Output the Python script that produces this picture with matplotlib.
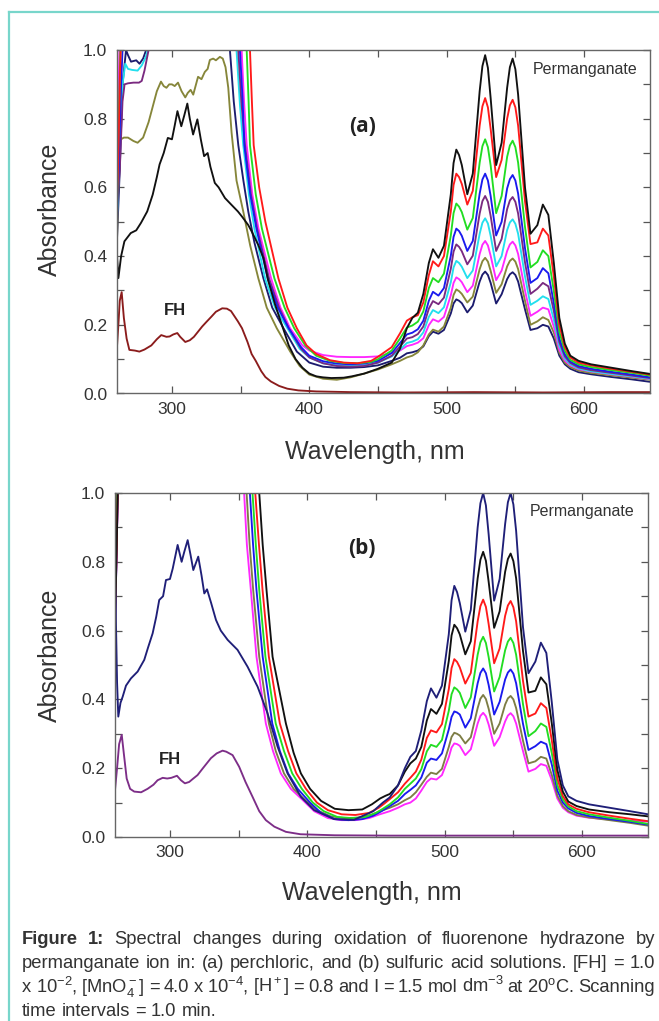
import numpy as np
import matplotlib.pyplot as plt
from matplotlib.lines import Line2D

plt.rcParams['font.family'] = ['Liberation Sans', 'DejaVu Sans']
plt.rcParams['mathtext.fontset'] = 'custom'
plt.rcParams['mathtext.rm'] = 'Liberation Sans'
plt.rcParams['mathtext.it'] = 'Liberation Sans:italic'
plt.rcParams['mathtext.bf'] = 'Liberation Sans:bold'

# shared wavelength grid for the permanganate band (nm)
VIS_WL = [460, 466, 471, 475, 479, 483, 487, 490, 494, 498, 503, 505, 507, 509, 511, 515, 519, 524, 526, 528,
          530, 532, 536, 540, 544, 546, 548, 550, 552, 557, 561, 566, 570, 574, 578, 582, 586, 590, 596, 605,
          620, 635, 648]

# ---------------- panel (a): perchloric acid ----------------
A_BLACK_UV_WL = [260, 261, 263, 265.4, 270, 274, 277.5, 282, 286, 289, 291, 294, 297, 300, 302, 304, 306.8, 309,
                 311.2, 313, 315.4, 318.5, 321, 323.4, 326, 328, 331.2, 334, 338.6, 343.4, 348, 351, 355.6, 358,
                 362.9, 366.6, 370, 375, 380, 385, 390, 395, 400, 405, 410, 416, 425, 431, 440, 450]
A_BLACK_UV = [0.40, 0.336, 0.40, 0.443, 0.467, 0.475, 0.497, 0.53, 0.579, 0.63, 0.667, 0.70, 0.744, 0.74, 0.78,
              0.822, 0.778, 0.81, 0.844, 0.80, 0.754, 0.798, 0.74, 0.691, 0.70, 0.66, 0.613, 0.60, 0.569, 0.549,
              0.53, 0.515, 0.49, 0.472, 0.432, 0.394, 0.33, 0.26, 0.20, 0.14, 0.10, 0.075, 0.058, 0.05, 0.047,
              0.045, 0.046, 0.05, 0.058, 0.072]
A_BLACK_VIS = [0.09, 0.13, 0.19, 0.22, 0.235, 0.29, 0.38, 0.42, 0.395, 0.43, 0.58, 0.671, 0.71, 0.694, 0.665,
               0.58, 0.64, 0.88, 0.953, 0.985, 0.948, 0.86, 0.665, 0.73, 0.89, 0.95, 0.975, 0.944, 0.87, 0.60,
               0.465, 0.49, 0.55, 0.52, 0.38, 0.22, 0.145, 0.11, 0.095, 0.085, 0.075, 0.065, 0.057]

A_OLIVE_UV_WL = [260, 261, 262, 265, 268, 272, 275, 279, 283, 286, 289, 292, 294, 296, 298, 300, 302, 304.4, 307,
                 309.7, 311.5, 313.6, 315.5, 319, 321.5, 323.9, 326, 327.6, 330, 332, 334.9, 337, 339, 341, 343.4,
                 347, 351.9, 357, 362.9, 369, 376.3, 386.1, 393, 400, 410, 420, 430, 440, 450]
A_OLIVE_UV = [0.45, 0.62, 0.738, 0.745, 0.745, 0.735, 0.73, 0.745, 0.79, 0.835, 0.88, 0.908, 0.895, 0.89, 0.9,
              0.9, 0.895, 0.905, 0.88, 0.862, 0.875, 0.884, 0.87, 0.922, 0.915, 0.936, 0.945, 0.971, 0.975, 0.97,
              0.98, 0.975, 0.95, 0.89, 0.76, 0.62, 0.53, 0.43, 0.335, 0.25, 0.19, 0.122, 0.08, 0.055, 0.043, 0.04,
              0.047, 0.058, 0.07]
A_OLIVE_VIS = [0.085, 0.095, 0.105, 0.11, 0.12, 0.14, 0.172, 0.186, 0.18, 0.195, 0.25, 0.287, 0.303, 0.298, 0.29,
               0.265, 0.282, 0.362, 0.385, 0.395, 0.384, 0.357, 0.293, 0.318, 0.37, 0.386, 0.393, 0.384, 0.362,
               0.27, 0.20, 0.21, 0.222, 0.214, 0.177, 0.119, 0.09, 0.077, 0.067, 0.06, 0.053, 0.046, 0.04]

A_NAVY_UV_WL = [260, 262, 264, 266.6, 268, 270.2, 274, 276.4, 279, 281.2, 284, 340, 342.2, 345, 348.3, 352, 355.6,
                360, 366.6, 373, 381.2, 390.9, 400, 410, 420, 430, 440, 450]
A_NAVY_UV = [0.45, 0.65, 0.9, 1.0, 0.985, 0.966, 0.97, 0.96, 0.975, 1.0, 1.1, 1.3, 1.0, 0.85, 0.723, 0.62, 0.529,
             0.44, 0.335, 0.25, 0.19, 0.122, 0.09, 0.078, 0.075, 0.075, 0.077, 0.082]
A_NAVY_VIS = [0.095, 0.104, 0.117, 0.12, 0.125, 0.137, 0.167, 0.18, 0.174, 0.185, 0.233, 0.262, 0.274, 0.27, 0.263,
              0.236, 0.256, 0.326, 0.346, 0.355, 0.345, 0.322, 0.262, 0.289, 0.333, 0.347, 0.353, 0.345, 0.326,
              0.245, 0.185, 0.19, 0.20, 0.195, 0.16, 0.11, 0.085, 0.072, 0.062, 0.056, 0.048, 0.041, 0.034]

A_CYAN_UV_WL = [260, 262, 264, 266, 268, 271, 275, 278, 281, 284, 287, 340, 347.0, 349.5, 351.9, 356, 360, 367.8,
                375, 384, 393, 400, 410, 420, 430, 440, 450]
A_CYAN_UV = [0.52, 0.7, 0.9, 0.96, 0.945, 0.942, 0.94, 0.955, 0.98, 1.02, 1.1, 1.3, 1.0, 0.84, 0.723, 0.58, 0.48,
             0.335, 0.25, 0.19, 0.13, 0.105, 0.088, 0.082, 0.08, 0.082, 0.09]
A_CYAN_VIS = [0.108, 0.128, 0.147, 0.151, 0.158, 0.178, 0.223, 0.243, 0.234, 0.251, 0.324, 0.367, 0.386, 0.38,
              0.369, 0.336, 0.358, 0.465, 0.497, 0.51, 0.495, 0.459, 0.37, 0.40, 0.476, 0.498, 0.507, 0.494,
              0.465, 0.341, 0.258, 0.27, 0.283, 0.275, 0.215, 0.139, 0.102, 0.085, 0.073, 0.065, 0.057, 0.05,
              0.043]

A_PURPLE_UV_WL = [260, 262, 264, 265.5, 268, 272, 276, 278, 280, 283, 286, 340, 348.3, 350.5, 353.2, 357.5, 362,
                  370.7, 378, 385, 394, 400, 410, 420, 430, 440, 450]
A_PURPLE_UV = [0.55, 0.65, 0.85, 0.9, 0.903, 0.905, 0.905, 0.91, 0.94, 1.0, 1.1, 1.3, 1.0, 0.85, 0.723, 0.58, 0.48,
               0.335, 0.25, 0.19, 0.13, 0.105, 0.088, 0.08, 0.078, 0.08, 0.09]
A_PURPLE_VIS = [0.11, 0.137, 0.16, 0.164, 0.173, 0.195, 0.247, 0.269, 0.26, 0.279, 0.363, 0.413, 0.434, 0.427,
                0.414, 0.376, 0.401, 0.524, 0.56, 0.575, 0.558, 0.517, 0.415, 0.45, 0.537, 0.562, 0.572, 0.558,
                0.524, 0.382, 0.29, 0.305, 0.322, 0.312, 0.24, 0.15, 0.108, 0.089, 0.076, 0.068, 0.06, 0.052,
                0.045]

A_BLUE_UV_WL = [260, 261.5, 263, 264.5, 266, 340, 349.5, 351.5, 352.7, 357, 361.5, 369.7, 377, 385, 394, 400, 410,
                420, 430, 440, 450]
A_BLUE_UV = [0.5, 0.7, 0.9, 1.05, 1.3, 1.3, 1.0, 0.85, 0.723, 0.58, 0.48, 0.335, 0.25, 0.19, 0.135, 0.11, 0.094,
             0.087, 0.085, 0.087, 0.095]
A_BLUE_VIS = [0.118, 0.147, 0.172, 0.177, 0.187, 0.212, 0.27, 0.296, 0.285, 0.307, 0.401, 0.456, 0.48, 0.473,
              0.459, 0.415, 0.444, 0.582, 0.623, 0.64, 0.62, 0.575, 0.46, 0.50, 0.597, 0.624, 0.636, 0.62, 0.582,
              0.423, 0.322, 0.336, 0.365, 0.35, 0.263, 0.16, 0.114, 0.093, 0.08, 0.072, 0.063, 0.055, 0.047]

A_MAGENTA_UV_WL = [260, 261, 262, 263, 340, 350.7, 352.5, 354.4, 358.5, 363, 372.2, 379, 386, 395, 400, 410, 420,
                   430, 440, 450]
A_MAGENTA_UV = [0.6, 0.85, 1.05, 1.3, 1.3, 1.0, 0.85, 0.723, 0.58, 0.48, 0.335, 0.25, 0.19, 0.14, 0.125, 0.112,
                0.107, 0.106, 0.106, 0.108]
A_MAGENTA_VIS = [0.118, 0.125, 0.138, 0.142, 0.148, 0.161, 0.199, 0.216, 0.209, 0.223, 0.286, 0.322, 0.338, 0.333,
                 0.324, 0.295, 0.314, 0.406, 0.433, 0.444, 0.431, 0.401, 0.33, 0.358, 0.415, 0.434, 0.442, 0.431,
                 0.406, 0.30, 0.226, 0.238, 0.25, 0.245, 0.194, 0.127, 0.096, 0.082, 0.071, 0.064, 0.056, 0.049,
                 0.042]

A_GREEN_UV_WL = [260, 261, 262.5, 264, 340, 354.4, 355.8, 356.8, 361, 365.5, 374.6, 382, 389, 397, 405, 415, 425,
                 435, 445, 450]
A_GREEN_UV = [0.52, 0.75, 1.0, 1.3, 1.3, 1.0, 0.85, 0.723, 0.58, 0.48, 0.335, 0.25, 0.19, 0.14, 0.11, 0.095,
              0.089, 0.088, 0.092, 0.10]
A_GREEN_VIS = [0.125, 0.16, 0.192, 0.198, 0.209, 0.239, 0.307, 0.336, 0.324, 0.349, 0.46, 0.525, 0.553, 0.544,
               0.528, 0.477, 0.511, 0.672, 0.72, 0.74, 0.717, 0.664, 0.525, 0.575, 0.689, 0.722, 0.736, 0.717,
               0.672, 0.485, 0.367, 0.383, 0.417, 0.40, 0.298, 0.179, 0.124, 0.098, 0.085, 0.077, 0.068, 0.06,
               0.052]

A_RED_UV_WL = [260, 261, 262, 263, 264, 340, 356.8, 358.2, 359.5, 363.5, 368, 377.5, 384, 390.9, 398, 405, 415,
               425, 435, 445, 450]
A_RED_UV = [0.55, 0.7, 0.9, 1.05, 1.3, 1.3, 1.0, 0.85, 0.723, 0.6, 0.5, 0.335, 0.25, 0.19, 0.14, 0.115, 0.097,
            0.09, 0.088, 0.095, 0.107]
A_RED_VIS = [0.135, 0.175, 0.212, 0.222, 0.228, 0.265, 0.345, 0.385, 0.37, 0.40, 0.53, 0.607, 0.64, 0.63, 0.61,
             0.55, 0.59, 0.78, 0.836, 0.86, 0.833, 0.77, 0.63, 0.68, 0.80, 0.839, 0.855, 0.833, 0.78, 0.56, 0.435,
             0.44, 0.48, 0.46, 0.34, 0.20, 0.135, 0.105, 0.09, 0.082, 0.072, 0.063, 0.055]

FH_A_WL = [260, 261, 262, 263.4, 265, 267, 269, 273, 276.3, 280, 285, 289, 292.2, 296, 298.3, 301, 303.9, 306,
           309.7, 313, 316, 319, 322, 325, 328.8, 332, 336.6, 340, 343, 348, 351, 355, 358, 361, 365, 368, 372,
           378, 384, 392, 405, 430, 470, 520, 570, 620, 648]
FH_A = [0.137, 0.2, 0.27, 0.295, 0.22, 0.16, 0.127, 0.125, 0.122, 0.128, 0.14, 0.158, 0.17, 0.165, 0.166, 0.172,
        0.176, 0.165, 0.15, 0.155, 0.165, 0.18, 0.195, 0.208, 0.224, 0.238, 0.248, 0.247, 0.24, 0.21, 0.19, 0.15,
        0.115, 0.095, 0.065, 0.048, 0.035, 0.022, 0.014, 0.009, 0.006, 0.004, 0.003, 0.004, 0.003, 0.004, 0.004]

# ---------------- panel (b): sulfuric acid ----------------
B_NAVY_UV_WL = [260, 260.8, 261.5, 262.4, 264, 265.6, 268, 271.6, 276.5, 281.3, 284, 287.4, 290, 292.2, 295,
                297.1, 300, 302, 305.6, 308.5, 310.5, 312.9, 315, 317, 320.6, 323, 325, 327, 330, 333.5, 337, 342,
                349.2, 356.5, 363.8, 371, 378.3, 385.6, 395.3, 405, 419.5, 434, 448, 455]
B_NAVY_UV = [0.75, 0.6, 0.45, 0.35, 0.39, 0.408, 0.44, 0.461, 0.481, 0.515, 0.55, 0.592, 0.64, 0.689, 0.7, 0.747,
             0.75, 0.78, 0.849, 0.80, 0.83, 0.863, 0.82, 0.776, 0.815, 0.76, 0.708, 0.72, 0.68, 0.631, 0.6, 0.573,
             0.544, 0.495, 0.437, 0.36, 0.263, 0.185, 0.117, 0.078, 0.052, 0.05, 0.075, 0.1]
B_NAVY_VIS = [0.115, 0.15, 0.2, 0.233, 0.25, 0.31, 0.395, 0.432, 0.405, 0.44, 0.59, 0.688, 0.73, 0.712, 0.68,
              0.597, 0.66, 0.9, 0.97, 1.0, 0.964, 0.88, 0.687, 0.75, 0.91, 0.973, 1.0, 0.967, 0.89, 0.61, 0.476,
              0.51, 0.565, 0.535, 0.39, 0.225, 0.15, 0.118, 0.105, 0.095, 0.085, 0.075, 0.066]

B_BLACK_UV_WL = [260, 261, 262, 263, 340, 365, 367.5, 370.3, 374.7, 384.4, 390, 395.3, 402, 410, 420, 430, 440,
                 447, 453, 457]
B_BLACK_UV = [0.6, 0.8, 1.0, 1.3, 1.3, 1.0, 0.85, 0.718, 0.524, 0.33, 0.245, 0.185, 0.14, 0.105, 0.082, 0.078,
              0.08, 0.095, 0.112, 0.12]
B_BLACK_VIS = [0.125, 0.15, 0.19, 0.214, 0.228, 0.262, 0.339, 0.372, 0.358, 0.387, 0.512, 0.586, 0.617, 0.607,
               0.589, 0.531, 0.569, 0.752, 0.806, 0.829, 0.803, 0.742, 0.608, 0.656, 0.771, 0.808, 0.824, 0.802,
               0.752, 0.541, 0.42, 0.425, 0.464, 0.444, 0.329, 0.195, 0.132, 0.103, 0.09, 0.08, 0.072, 0.066, 0.06]

B_RED_UV_WL = [260, 261, 262, 263, 340, 362.1, 364.8, 367.4, 372, 380, 386, 392, 399, 407, 415, 425, 435, 445,
               452, 456]
B_RED_UV = [0.65, 0.8, 1.0, 1.3, 1.3, 1.0, 0.85, 0.718, 0.524, 0.33, 0.25, 0.185, 0.14, 0.1, 0.078, 0.066, 0.064,
            0.07, 0.085, 0.097]
B_RED_VIS = [0.11, 0.13, 0.155, 0.172, 0.19, 0.225, 0.288, 0.31, 0.304, 0.328, 0.43, 0.491, 0.517, 0.509, 0.493,
             0.446, 0.477, 0.627, 0.671, 0.69, 0.669, 0.619, 0.505, 0.548, 0.643, 0.673, 0.686, 0.668, 0.627,
             0.454, 0.35, 0.359, 0.389, 0.375, 0.28, 0.17, 0.119, 0.095, 0.082, 0.072, 0.062, 0.053, 0.046]

B_GREEN_UV_WL = [260, 261, 262, 263, 340, 360.1, 362.5, 365, 369.5, 377, 383, 389, 396, 404, 412, 422, 432, 442,
                 450, 455]
B_GREEN_UV = [0.7, 0.85, 1.05, 1.3, 1.3, 1.0, 0.85, 0.718, 0.524, 0.33, 0.25, 0.185, 0.14, 0.1, 0.075, 0.058,
              0.055, 0.058, 0.07, 0.082]
B_GREEN_VIS = [0.095, 0.115, 0.14, 0.155, 0.17, 0.197, 0.249, 0.268, 0.262, 0.282, 0.367, 0.415, 0.435, 0.429,
               0.419, 0.375, 0.406, 0.53, 0.566, 0.582, 0.564, 0.523, 0.423, 0.465, 0.543, 0.568, 0.579, 0.564,
               0.53, 0.386, 0.293, 0.308, 0.33, 0.32, 0.243, 0.151, 0.109, 0.089, 0.075, 0.066, 0.056, 0.047,
               0.038]

B_BLUE_UV_WL = [260, 261, 262, 263, 340, 358.2, 360.5, 363, 367.5, 374.5, 380, 386, 393, 402, 410, 420, 430, 440,
                448, 454]
B_BLUE_UV = [0.6, 0.8, 1.0, 1.3, 1.3, 1.0, 0.85, 0.718, 0.524, 0.33, 0.25, 0.185, 0.14, 0.1, 0.07, 0.052, 0.049,
             0.052, 0.062, 0.075]
B_BLUE_VIS = [0.09, 0.105, 0.125, 0.137, 0.15, 0.173, 0.216, 0.228, 0.224, 0.243, 0.313, 0.349, 0.365, 0.362,
              0.356, 0.318, 0.345, 0.447, 0.477, 0.49, 0.476, 0.442, 0.356, 0.393, 0.458, 0.478, 0.487, 0.475,
              0.447, 0.329, 0.253, 0.264, 0.277, 0.27, 0.21, 0.135, 0.1, 0.083, 0.07, 0.061, 0.052, 0.044, 0.036]

B_OLIVE_UV_WL = [260, 261, 262, 263, 340, 355.8, 358, 360.6, 365, 372, 377, 383, 390, 399, 407, 417, 427, 437,
                 447, 453]
B_OLIVE_UV = [0.65, 0.85, 1.05, 1.3, 1.3, 1.0, 0.85, 0.718, 0.524, 0.33, 0.25, 0.185, 0.14, 0.105, 0.078, 0.06,
              0.055, 0.056, 0.065, 0.075]
B_OLIVE_VIS = [0.085, 0.095, 0.107, 0.115, 0.13, 0.152, 0.175, 0.187, 0.183, 0.198, 0.262, 0.291, 0.303, 0.30,
               0.295, 0.272, 0.29, 0.375, 0.402, 0.413, 0.401, 0.373, 0.30, 0.33, 0.385, 0.403, 0.41, 0.40, 0.375,
               0.28, 0.214, 0.22, 0.233, 0.228, 0.18, 0.12, 0.09, 0.075, 0.064, 0.057, 0.049, 0.041, 0.033]

B_MAGENTA_UV_WL = [260, 261, 262, 263, 340, 354, 356, 358.9, 363, 369.8, 375, 380.7, 388, 396.5, 405, 415, 425,
                   435, 445, 452]
B_MAGENTA_UV = [0.6, 0.8, 1.0, 1.3, 1.3, 1.0, 0.85, 0.718, 0.524, 0.33, 0.25, 0.185, 0.14, 0.108, 0.075, 0.055,
                0.049, 0.049, 0.055, 0.065]
B_MAGENTA_VIS = [0.075, 0.085, 0.095, 0.10, 0.112, 0.135, 0.16, 0.17, 0.167, 0.18, 0.232, 0.26, 0.272, 0.27, 0.265,
                 0.238, 0.255, 0.33, 0.352, 0.361, 0.351, 0.327, 0.265, 0.29, 0.336, 0.353, 0.36, 0.351, 0.33,
                 0.25, 0.19, 0.198, 0.212, 0.207, 0.165, 0.112, 0.085, 0.072, 0.062, 0.056, 0.051, 0.047, 0.045]

FH_B_WL = [260, 261.5, 263, 264.9, 266.5, 268.5, 271, 274, 279, 283.7, 288, 291, 294.7, 298, 301, 305.1, 308,
           310.9, 314, 317, 320.1, 324, 329.8, 334, 338.3, 341, 345.6, 350.4, 355, 360.1, 365, 369.8, 376, 384.4,
           395, 420, 460, 500, 550, 600, 648]
FH_B = [0.137, 0.2, 0.27, 0.297, 0.24, 0.17, 0.14, 0.132, 0.13, 0.14, 0.152, 0.165, 0.172, 0.17, 0.172, 0.178,
        0.165, 0.156, 0.16, 0.17, 0.18, 0.2, 0.229, 0.243, 0.251, 0.248, 0.238, 0.204, 0.16, 0.117, 0.075, 0.049,
        0.03, 0.015, 0.008, 0.005, 0.004, 0.004, 0.004, 0.004, 0.004]

W, H = 659, 1021
fig = plt.figure(figsize=(W / 100, H / 100), dpi=100)
fig.patch.set_facecolor('white')


def px_axes(left, top, right, bottom):
    return fig.add_axes([left / W, 1 - bottom / H, (right - left) / W, (bottom - top) / H])


def style_axes(ax):
    ax.set_xlim(260, 648)
    ax.set_ylim(0, 1.0)
    ax.set_xticks([300, 400, 500, 600])
    ax.set_xticks([350, 450, 550], minor=True)
    ax.set_yticks([0, 0.2, 0.4, 0.6, 0.8, 1.0])
    ax.set_yticklabels(['0.0', '0.2', '0.4', '0.6', '0.8', '1.0'])
    ax.set_yticks([0.1, 0.3, 0.5, 0.7, 0.9], minor=True)
    ax.tick_params(which='both', direction='in', top=True, right=True, length=5, width=0.9,
                   color='#555555', labelsize=12.5, labelcolor='#333333')
    ax.tick_params(axis='y', pad=7)
    ax.tick_params(axis='x', pad=6)
    for s in ax.spines.values():
        s.set_color('#666666')
        s.set_linewidth(1.0)


def draw(ax, uv_wl, uv_abs, vis_abs, color, lw=1.35):
    ax.plot(list(uv_wl) + VIS_WL, list(uv_abs) + list(vis_abs), color=color, lw=lw, solid_joinstyle='round')


# panel (a)
ax_a = px_axes(117, 50, 650, 393.5)
style_axes(ax_a)
draw(ax_a, A_NAVY_UV_WL, A_NAVY_UV, A_NAVY_VIS, '#1c1c6e')
draw(ax_a, A_OLIVE_UV_WL, A_OLIVE_UV, A_OLIVE_VIS, '#86863a')
draw(ax_a, A_MAGENTA_UV_WL, A_MAGENTA_UV, A_MAGENTA_VIS, '#ff28ff')
draw(ax_a, A_CYAN_UV_WL, A_CYAN_UV, A_CYAN_VIS, '#22dfee')
draw(ax_a, A_PURPLE_UV_WL, A_PURPLE_UV, A_PURPLE_VIS, '#7a2a80')
draw(ax_a, A_BLUE_UV_WL, A_BLUE_UV, A_BLUE_VIS, '#1a1aee')
draw(ax_a, A_GREEN_UV_WL, A_GREEN_UV, A_GREEN_VIS, '#22dd22')
draw(ax_a, A_RED_UV_WL, A_RED_UV, A_RED_VIS, '#ff1a1a')
draw(ax_a, A_BLACK_UV_WL, A_BLACK_UV, A_BLACK_VIS, '#111111')
ax_a.plot(FH_A_WL, FH_A, color='#8b1c1c', lw=1.35)
ax_a.text(0.46, 0.776, '(a)', transform=ax_a.transAxes, ha='center', va='center',
          fontsize=15, fontweight='bold', family=['Open Sans', 'DejaVu Sans'], color='#222222')
ax_a.text(0.878, 0.942, 'Permanganate', transform=ax_a.transAxes, ha='center', va='center',
          fontsize=11.5, color='#333333')
ax_a.text(0.109, 0.243, 'FH', transform=ax_a.transAxes, ha='center', va='center',
          fontsize=12, fontweight='bold', color='#222222')

# panel (b)
ax_b = px_axes(115, 493, 648, 837)
style_axes(ax_b)
draw(ax_b, B_MAGENTA_UV_WL, B_MAGENTA_UV, B_MAGENTA_VIS, '#ff28ff')
draw(ax_b, B_OLIVE_UV_WL, B_OLIVE_UV, B_OLIVE_VIS, '#7d7d45')
draw(ax_b, B_BLUE_UV_WL, B_BLUE_UV, B_BLUE_VIS, '#1a1aee')
draw(ax_b, B_GREEN_UV_WL, B_GREEN_UV, B_GREEN_VIS, '#22dd22')
draw(ax_b, B_RED_UV_WL, B_RED_UV, B_RED_VIS, '#ff1a1a')
draw(ax_b, B_BLACK_UV_WL, B_BLACK_UV, B_BLACK_VIS, '#111111')
draw(ax_b, B_NAVY_UV_WL, B_NAVY_UV, B_NAVY_VIS, '#1f1f78')
ax_b.plot(FH_B_WL, FH_B, color='#7d2e88', lw=1.35)
ax_b.text(0.463, 0.84, '(b)', transform=ax_b.transAxes, ha='center', va='center',
          fontsize=15, fontweight='bold', family=['Open Sans', 'DejaVu Sans'], color='#222222')
ax_b.text(0.876, 0.945, 'Permanganate', transform=ax_b.transAxes, ha='center', va='center',
          fontsize=11.5, color='#333333')
ax_b.text(0.103, 0.224, 'FH', transform=ax_b.transAxes, ha='center', va='center',
          fontsize=12, fontweight='bold', color='#222222')

# axis titles
for yc in (209, 655):
    fig.text(50 / W, 1 - yc / H, 'Absorbance', rotation=90, ha='center', va='center',
             fontsize=18, color='#333333')
for xc, yc in ((375, 452), (372, 893)):
    fig.text(xc / W, 1 - yc / H, 'Wavelength, nm', ha='center', va='center',
             fontsize=18, color='#333333')

# teal frame (top and left sides visible)
frame_col = '#78d6cb'
fig.add_artist(Line2D([9 / W, 1.0], [1 - 12 / H, 1 - 12 / H], color=frame_col, lw=1.6))
fig.add_artist(Line2D([9 / W, 9 / W], [0, 1 - 12 / H], color=frame_col, lw=1.6))

# caption, justified line by line
CAP_FAMILY = ['Liberation Sans', 'DejaVu Sans']
CAP_SIZE = 13.2
caption_lines = [
    ([('Figure', True), ('1:', True)] +
     [(w, False) for w in 'Spectral changes during oxidation of fluorenone hydrazone by'.split()], True),
    ([(w, False) for w in 'permanganate ion in: (a) perchloric, and (b) sulfuric acid solutions. [FH] = 1.0'.split()],
     True),
    ([(w, False) for w in ['x', r'10$^{-2}$,', r'[MnO$_4^-$]', '=', '4.0', 'x', r'10$^{-4}$,', r'[H$^+$]', '=',
                           '0.8', 'and', 'I', '=', '1.5', 'mol', r'dm$^{-3}$', 'at', r'20$^{\mathrm{o}}$C.',
                           'Scanning']], True),
    ([(w, False) for w in 'time intervals = 1.0 min.'.split()], False),
]
line_y = [944, 968, 992, 1016]
x_start, x_end = 22, 655
renderer = fig.canvas.get_renderer()
probe = fig.text(0, 0, 'a a', fontsize=CAP_SIZE, family=CAP_FAMILY)
probe2 = fig.text(0, 0, 'aa', fontsize=CAP_SIZE, family=CAP_FAMILY)
space_w = probe.get_window_extent(renderer).width - probe2.get_window_extent(renderer).width
probe.remove()
probe2.remove()
for (tokens, justify), yb in zip(caption_lines, line_y):
    items = []
    for word, bold in tokens:
        t = fig.text(0, 1 - yb / H, word, fontsize=CAP_SIZE, family=CAP_FAMILY,
                     fontweight='bold' if bold else 'normal', color='#333333', va='baseline', ha='left')
        items.append(t)
    widths = [t.get_window_extent(renderer).width for t in items]
    if justify and len(items) > 1:
        gap = (x_end - x_start - sum(widths)) / (len(items) - 1)
    else:
        gap = space_w
    x = x_start
    for t, wdt in zip(items, widths):
        t.set_x(x / W)
        x += wdt + gap

fig.savefig('out.png', dpi=100, facecolor='white')
